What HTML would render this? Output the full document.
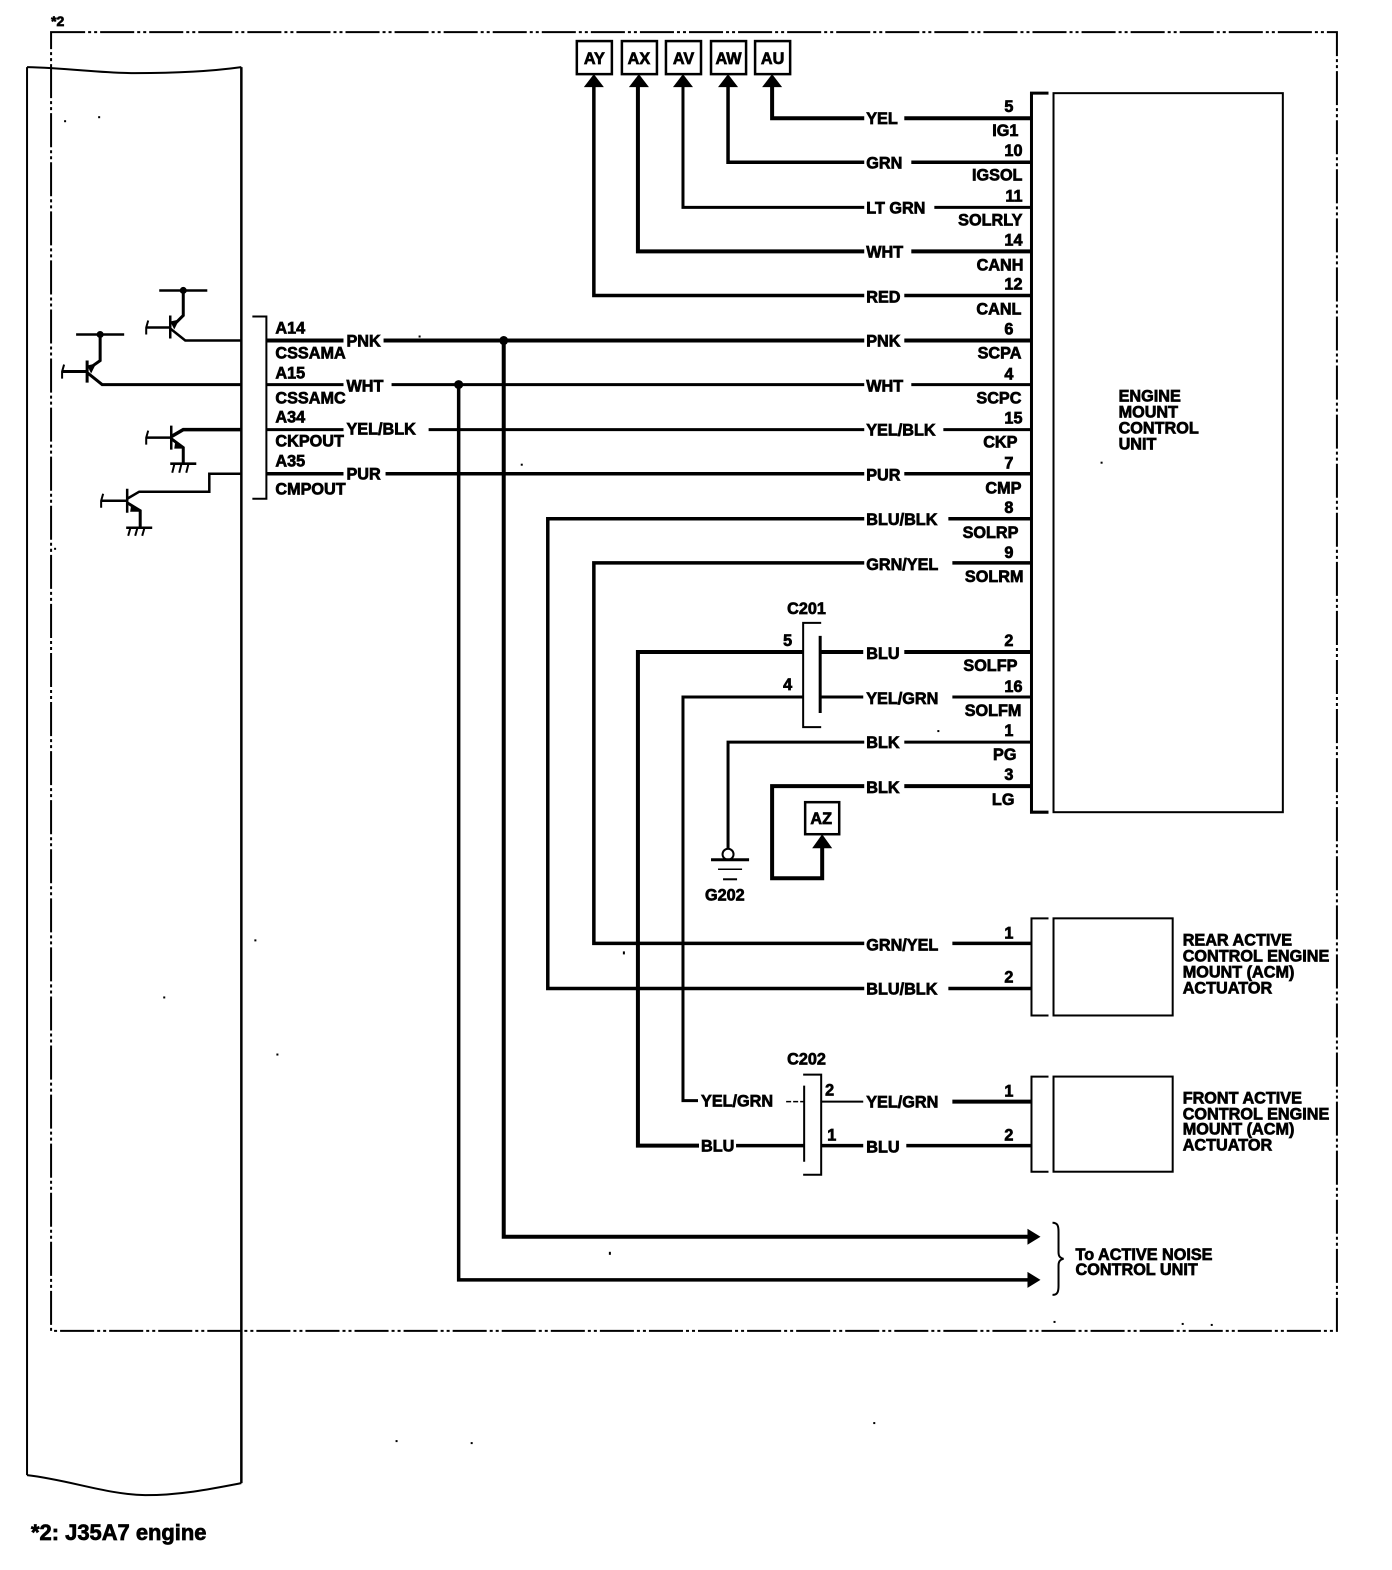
<!DOCTYPE html>
<html><head><meta charset="utf-8">
<style>
html,body{margin:0;padding:0;background:#fff}
svg{display:block}
text{font-family:"Liberation Sans",sans-serif;font-weight:bold;font-size:16.2px;fill:#000;stroke:#000;stroke-width:.7px}
.e{text-anchor:end}
.c{text-anchor:middle}
</style></head><body>
<svg width="1392" height="1570" viewBox="0 0 1390 1567.700" xmlns="http://www.w3.org/2000/svg">
<rect width="1392" height="1570" fill="#fff"/>
<g fill="none" stroke="#000" stroke-linejoin="miter" stroke-linecap="butt">
<!-- dashed frame -->
<path d="M51 32H1335V1329H51Z" stroke-width="2" stroke-dasharray="34 3 3 3 3 3"/>
<!-- left module -->
<path d="M27 67C70 68 100 73 135 73C170 73 205 72 241 67" stroke-width="2"/>
<path d="M27 67V1473" stroke-width="2"/>
<path d="M241 67V1481" stroke-width="2.5"/>
<path d="M27 1473C70 1478 105 1492 145 1493C180 1493 210 1487 241 1481" stroke-width="2"/>
<!-- connector bracket left -->
<path d="M252 316H266V498H252" stroke-width="2"/>
<!-- transistor 1 -->
<path d="M159 290H207" stroke-width="2.5"/>
<path d="M183 290V315L176 322" stroke-width="3"/>
<path d="M146 327H170M170 315V338M170 328L185 340H241" stroke-width="2.5"/>
<path d="M148 320L146 327L146 334" stroke-width="2"/>
<path d="M170 321L179 319L174 329Z" fill="#000" stroke="none"/>
<circle cx="183" cy="290" r="3.500" fill="#000" stroke="none"/>
<!-- transistor 2 -->
<path d="M76 334H124" stroke-width="2.5"/>
<path d="M100 334V360L93 365" stroke-width="3"/>
<path d="M62 371H87M87 360V382M87 372L102 384H241" stroke-width="3"/>
<path d="M64 364L62 371L62 378" stroke-width="2"/>
<path d="M87 365L96 363L91 373Z" fill="#000" stroke="none"/>
<circle cx="100" cy="334" r="3.500" fill="#000" stroke="none"/>
<!-- transistor 3 -->
<path d="M146 437H171M171 425V449" stroke-width="2.5"/>
<path d="M148 430L146 437L146 444" stroke-width="2"/>
<path d="M171 436L183 429H241" stroke-width="3.5"/>
<path d="M171 438L183 447V463" stroke-width="3"/>
<path d="M170 463H196" stroke-width="2.5"/>
<path d="M174 464L172 472M181 464L179 472M188 464L186 472" stroke-width="2"/>
<path d="M184 448L175 441L174 448Z" fill="#000" stroke="none"/>
<!-- transistor 4 -->
<path d="M101 500H127M127 488V512" stroke-width="2.5"/>
<path d="M103 493L101 500L101 507" stroke-width="2"/>
<path d="M127 498L139 491H209V473H241" stroke-width="2.5"/>
<path d="M127 502L140 510V527" stroke-width="3"/>
<path d="M126 527H152" stroke-width="2.5"/>
<path d="M130 528L128 535M137 528L135 535M144 528L142 535" stroke-width="2"/>
<path d="M140 511L131 504L130 511Z" fill="#000" stroke="none"/>

<!-- top wires -->
<path d="M771 86V118H863M903 118H1030" stroke-width="4"/>
<path d="M727 86V162H863M910 162H1030" stroke-width="3.5"/>
<path d="M682 86V207H863M933 207H1030" stroke-width="3"/>
<path d="M637 86V251H863M910 251H1030" stroke-width="4"/>
<path d="M593 86V295H863M903 295H1030" stroke-width="3.5"/>
<!-- boxes -->
<g stroke-width="2.5">
<rect x="576" y="41" width="35" height="33"/>
<rect x="621" y="41" width="35" height="33"/>
<rect x="665" y="41" width="35" height="33"/>
<rect x="710" y="41" width="35" height="33"/>
<rect x="754" y="41" width="35" height="33"/>
<rect x="804" y="801" width="34" height="32"/>
</g>
<g fill="#000" stroke="none">
<path d="M593 74L603 87H583Z"/>
<path d="M638 74L648 87H628Z"/>
<path d="M682 74L692 87H672Z"/>
<path d="M727 74L737 87H717Z"/>
<path d="M771 74L781 87H761Z"/>
<path d="M821 833L831 847H811Z"/>
<path d="M1026 1227L1039 1235L1026 1243Z"/>
<path d="M1026 1270L1039 1278L1026 1286Z"/>
<circle cx="503" cy="340" r="4.500"/>
<circle cx="458" cy="384" r="4.500"/>
</g>
<!-- left connector wires -->
<path d="M266 340H343M383 340H863M903 340H1030" stroke-width="4"/>
<path d="M266 384H343M391 384H863M910 384H1030" stroke-width="3"/>
<path d="M266 429H343M428 429H863M942 429H1030" stroke-width="3"/>
<path d="M266 473H343M385 473H863M903 473H1030" stroke-width="3.5"/>
<!-- long verticals -->
<path d="M503 340V1235H1028" stroke-width="4"/>
<path d="M458 384V1278H1028" stroke-width="3.5"/>
<!-- solenoid pairs -->
<path d="M863 518H547V987H863" stroke-width="3.5"/>
<path d="M947 518H1030M947 987H1030" stroke-width="3.5"/>
<path d="M863 562H593V942H863" stroke-width="3.5"/>
<path d="M951 562H1030M951 942H1030" stroke-width="3.5"/>
<!-- C201 -->
<path d="M820 622H802V726H820" stroke-width="2"/>
<path d="M819 635V712" stroke-width="3"/>
<path d="M802 651H637V1144H698" stroke-width="4"/>
<path d="M819 651H862M903 651H1030" stroke-width="4"/>
<path d="M802 696H682V1099H697" stroke-width="3"/>
<path d="M819 696H862M951 696H1030" stroke-width="3"/>
<!-- BLK / ground -->
<path d="M863 741H727V847M903 741H1030" stroke-width="3"/>
<circle cx="727" cy="853" r="5.500" stroke-width="2"/>
<path d="M710 858.500H748" stroke-width="3"/>
<path d="M717 868H741" stroke-width="1.500"/>
<path d="M722 878H736" stroke-width="2"/>
<path d="M863 785H771V877H821V846M903 785H1030" stroke-width="4"/>
<!-- engine mount control unit -->
<path d="M1047 93H1030V811H1047" stroke-width="3"/>
<rect x="1052" y="93" width="229" height="718" stroke-width="2"/>
<!-- rear actuator -->
<path d="M1047 917H1030V1014H1047" stroke-width="2"/>
<rect x="1052" y="917" width="119" height="97" stroke-width="2"/>
<!-- front actuator -->
<path d="M1047 1075H1030V1170H1047" stroke-width="2"/>
<rect x="1052" y="1075" width="119" height="95" stroke-width="2"/>
<!-- C202 -->
<path d="M802 1073H820V1173H802" stroke-width="2"/>
<path d="M803 1084V1160" stroke-width="2"/>
<path d="M785 1100H803" stroke-width="1.500" stroke-dasharray="5 2"/>
<path d="M820 1100H862" stroke-width="2"/>
<path d="M951 1100H1030" stroke-width="4"/>
<path d="M735 1144H803M820 1144H862M905 1144H1030" stroke-width="3.500"/>
<!-- brace -->
<path d="M1051 1221C1056 1221 1057 1224 1057 1230V1250C1057 1254 1058 1256 1062 1257C1058 1258 1057 1260 1057 1264V1284C1057 1290 1056 1293 1051 1293" stroke-width="2"/>
</g>

<!-- scan specks -->
<g fill="#000">
<rect x="98" y="116" width="2" height="2"/><rect x="64" y="120" width="2" height="2"/><rect x="54" y="547" width="2" height="2"/>
<rect x="276" y="1052" width="2" height="2"/><rect x="622" y="950" width="2" height="3"/><rect x="1099" y="461" width="2" height="2"/>
<rect x="608" y="1250" width="2" height="3"/><rect x="936" y="729" width="2" height="2"/><rect x="1209" y="1322" width="2" height="2"/>
<rect x="1180" y="1321" width="2" height="2"/><rect x="1052" y="1319" width="2" height="2"/><rect x="470" y="1440" width="2" height="2"/>
<rect x="395" y="1438" width="2" height="2"/><rect x="872" y="1420" width="2" height="2"/><rect x="163" y="995" width="2" height="2"/>
<rect x="254" y="938" width="2" height="2"/><rect x="418" y="335" width="2" height="2"/><rect x="520" y="463" width="2" height="2"/>
</g>

<!-- box labels -->
<text class="c" x="593.500" y="64">AY</text>
<text class="c" x="638" y="64">AX</text>
<text class="c" x="682.500" y="64">AV</text>
<text class="c" x="727.500" y="64">AW</text>
<text class="c" x="771.500" y="64">AU</text>
<text class="c" x="820" y="823">AZ</text>

<!-- wire labels right column -->
<text x="865" y="124">YEL</text>
<text x="865" y="168">GRN</text>
<text x="865" y="213">LT GRN</text>
<text x="865" y="257">WHT</text>
<text x="865" y="302">RED</text>
<text x="865" y="346">PNK</text>
<text x="865" y="391">WHT</text>
<text x="865" y="435">YEL/BLK</text>
<text x="865" y="480">PUR</text>
<text x="865" y="524">BLU/BLK</text>
<text x="865" y="569">GRN/YEL</text>
<text x="865" y="658">BLU</text>
<text x="865" y="703">YEL/GRN</text>
<text x="865" y="747">BLK</text>
<text x="865" y="792">BLK</text>
<text x="865" y="949">GRN/YEL</text>
<text x="865" y="993">BLU/BLK</text>
<text x="865" y="1106">YEL/GRN</text>
<text x="865" y="1151">BLU</text>
<text x="700" y="1105">YEL/GRN</text>
<text x="700" y="1150">BLU</text>

<!-- left labels -->
<text x="346" y="346">PNK</text>
<text x="346" y="391">WHT</text>
<text x="346" y="434">YEL/BLK</text>
<text x="346" y="479">PUR</text>
<text x="275" y="333">A14</text>
<text x="275" y="358">CSSAMA</text>
<text x="275" y="378">A15</text>
<text x="275" y="403">CSSAMC</text>
<text x="275" y="422">A34</text>
<text x="275" y="446">CKPOUT</text>
<text x="275" y="466">A35</text>
<text x="275" y="494">CMPOUT</text>

<!-- pin numbers -->
<text class="e" x="1012" y="112">5</text>
<text class="e" x="1021" y="156">10</text>
<text class="e" x="1021" y="201">11</text>
<text class="e" x="1021" y="245">14</text>
<text class="e" x="1021" y="289">12</text>
<text class="e" x="1012" y="334">6</text>
<text class="e" x="1012" y="379">4</text>
<text class="e" x="1021" y="423">15</text>
<text class="e" x="1012" y="468">7</text>
<text class="e" x="1012" y="512">8</text>
<text class="e" x="1012" y="557">9</text>
<text class="e" x="1012" y="645">2</text>
<text class="e" x="1021" y="691">16</text>
<text class="e" x="1012" y="735">1</text>
<text class="e" x="1012" y="779">3</text>
<text class="e" x="1012" y="937">1</text>
<text class="e" x="1012" y="981">2</text>
<text class="e" x="1012" y="1095">1</text>
<text class="e" x="1012" y="1139">2</text>
<text x="782" y="645">5</text>
<text x="782" y="689">4</text>
<text x="824" y="1094">2</text>
<text x="826" y="1139">1</text>

<!-- pin names -->
<text class="e" x="1017" y="136">IG1</text>
<text class="e" x="1021" y="180">IGSOL</text>
<text class="e" x="1021" y="225">SOLRLY</text>
<text class="e" x="1022" y="270">CANH</text>
<text class="e" x="1020" y="314">CANL</text>
<text class="e" x="1020" y="358">SCPA</text>
<text class="e" x="1020" y="403">SCPC</text>
<text class="e" x="1016" y="447">CKP</text>
<text class="e" x="1020" y="493">CMP</text>
<text class="e" x="1017" y="537">SOLRP</text>
<text class="e" x="1022" y="581">SOLRM</text>
<text class="e" x="1016" y="670">SOLFP</text>
<text class="e" x="1020" y="715">SOLFM</text>
<text class="e" x="1015" y="759">PG</text>
<text class="e" x="1013" y="804">LG</text>

<!-- connector names -->
<text x="786" y="613">C201</text>
<text x="786" y="1063">C202</text>
<text x="704" y="899">G202</text>

<!-- module names -->
<text x="1117" y="401">ENGINE</text>
<text x="1117" y="417">MOUNT</text>
<text x="1117" y="433">CONTROL</text>
<text x="1117" y="449">UNIT</text>
<text x="1181" y="944">REAR ACTIVE</text>
<text x="1181" y="960">CONTROL ENGINE</text>
<text x="1181" y="976">MOUNT (ACM)</text>
<text x="1181" y="992">ACTUATOR</text>
<text x="1181" y="1102">FRONT ACTIVE</text>
<text x="1181" y="1118">CONTROL ENGINE</text>
<text x="1181" y="1133">MOUNT (ACM)</text>
<text x="1181" y="1149">ACTUATOR</text>
<text x="1074" y="1258">To ACTIVE NOISE</text>
<text x="1074" y="1273">CONTROL UNIT</text>

<text x="51" y="26" style="font-size:14px">*2</text>
<text x="31" y="1538" style="font-size:21.900px">*2: J35A7 engine</text>
</svg>
</body></html>
